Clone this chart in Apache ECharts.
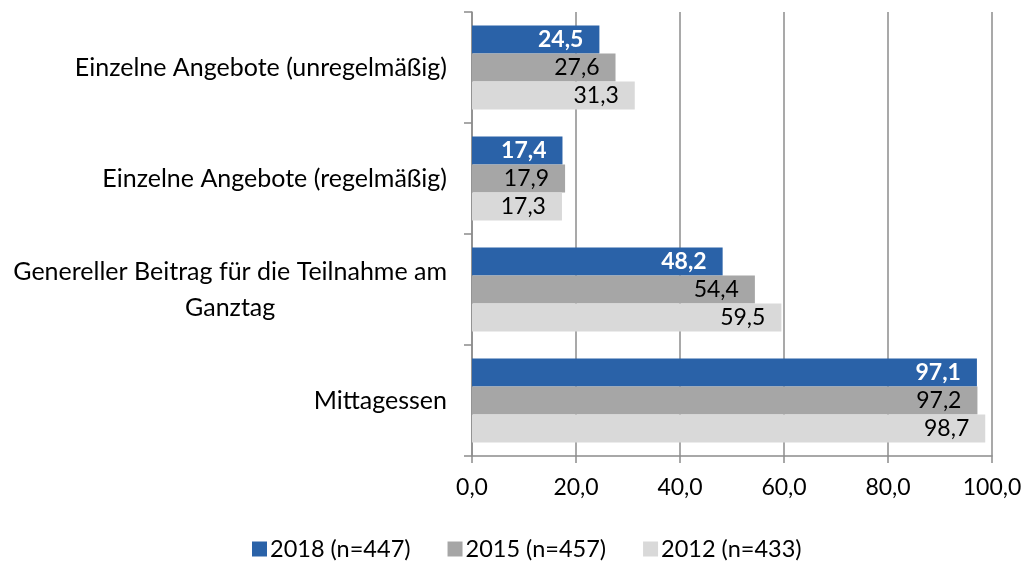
<!DOCTYPE html>
<html>
<head>
<meta charset="utf-8">
<script src="https://cdn.jsdelivr.net/npm/echarts@6/dist/echarts.min.js"></script>
<style>
  html, body { margin: 0; padding: 0; background: #ffffff; }
  #chart { width: 1026px; height: 561px; }
</style>
</head>
<body>
<div id="chart"></div>
<script>
// Kategorien (von oben nach unten)
const categories = [
  'Einzelne Angebote (unregelmäßig)',
  'Einzelne Angebote (regelmäßig)',
  'Genereller Beitrag für die Teilnahme am\nGanztag',
  'Mittagessen'
];

// Anteile in Prozent je Erhebungsjahr
const seriesNames = ['2018 (n=447)', '2015 (n=457)', '2012 (n=433)'];
const values2018 = [24.5, 17.4, 48.2, 97.1];
const values2015 = [27.6, 17.9, 54.4, 97.2];
const values2012 = [31.3, 17.3, 59.5, 98.7];

const colors = ['#2a62a8', '#a6a6a6', '#d9d9d9'];
const FONT = 'Lato, "Liberation Sans", sans-serif';
const GRID_COLOR = '#8c8c8c';

const fmt = v => Number(v).toFixed(1).replace('.', ',');

function barSeries(name, data, color, bold) {
  return {
    name: name,
    type: 'bar',
    data: data,
    barWidth: 28,
    barGap: '0%',
    itemStyle: { color: color },
    label: {
      show: true,
      position: 'insideRight',
      distance: 16,
      formatter: p => fmt(p.value),
      color: bold ? '#ffffff' : '#000000',
      fontWeight: bold ? 'bold' : 'normal',
      fontFamily: FONT,
      fontSize: 23
    }
  };
}

const chart = echarts.init(document.getElementById('chart'));
chart.setOption({
  animation: false,
  backgroundColor: '#ffffff',
  color: colors,
  grid: { left: 472, right: 34, top: 12, bottom: 105, containLabel: false },
  legend: {
    left: 247,
    top: 532,
    itemWidth: 15,
    itemHeight: 15,
    itemGap: 37,
    icon: 'rect',
    textStyle: { fontFamily: FONT, fontSize: 23.5, color: '#000000', padding: [0, 0, 0, -2] },
    data: seriesNames
  },
  xAxis: {
    type: 'value',
    min: 0,
    max: 100,
    interval: 20,
    axisLine: { show: true, lineStyle: { color: GRID_COLOR, width: 1.5 } },
    axisTick: { show: true, length: 7, lineStyle: { color: GRID_COLOR, width: 1.5 } },
    splitLine: { show: true, lineStyle: { color: GRID_COLOR, width: 1.5 } },
    axisLabel: {
      margin: 20,
      formatter: v => fmt(v),
      fontFamily: FONT,
      fontSize: 23,
      color: '#000000'
    }
  },
  yAxis: {
    type: 'category',
    inverse: true,
    data: categories,
    axisLine: { show: true, lineStyle: { color: GRID_COLOR, width: 1.5 } },
    axisTick: { show: true, length: 8, lineStyle: { color: GRID_COLOR, width: 1.5 } },
    axisLabel: {
      margin: 25,
      align: 'right',
      color: '#000000',
      fontFamily: FONT,
      fontSize: 25,
      formatter: v => v.split('\n').map(l => '{c|' + l + '}').join('\n'),
      rich: {
        c: { align: 'center', fontFamily: FONT, fontSize: 25, lineHeight: 36, color: '#000000' }
      }
    }
  },
  series: [
    barSeries(seriesNames[0], values2018, colors[0], true),
    barSeries(seriesNames[1], values2015, colors[1], false),
    barSeries(seriesNames[2], values2012, colors[2], false)
  ]
});
</script>
</body>
</html>
